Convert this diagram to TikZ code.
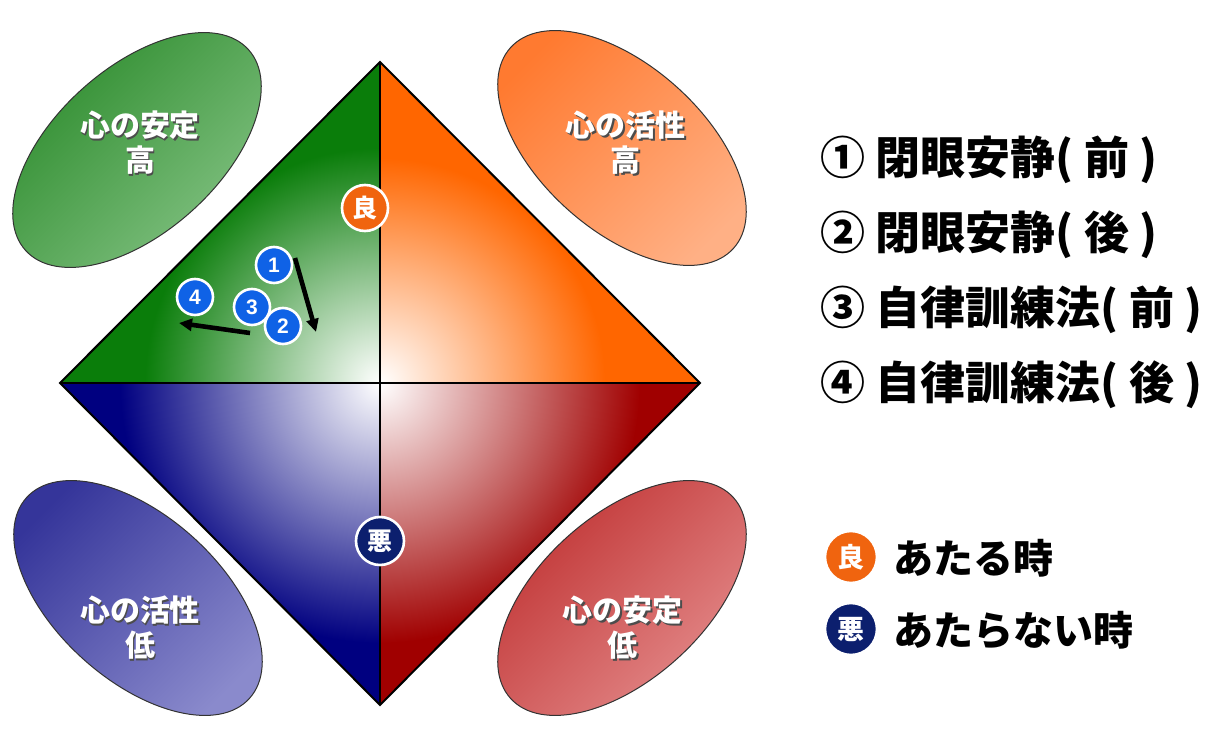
\documentclass[tikz,border=0pt]{standalone}
\usepackage{fontspec}
\newfontfamily\jp{Noto Sans CJK JP}
\newfontfamily\num{Liberation Sans}
\usetikzlibrary{arrows.meta}
\definecolor{qgreen}{HTML}{0A7D0A}
\definecolor{qorange}{HTML}{FF6600}
\definecolor{qnavy}{HTML}{000080}
\definecolor{qred}{HTML}{A00000}
\definecolor{egreenA}{HTML}{2A8A2A}
\definecolor{egreenB}{HTML}{86C486}
\definecolor{eorangeA}{HTML}{FF7A30}
\definecolor{eorangeB}{HTML}{FFB085}
\definecolor{enavyA}{HTML}{35359A}
\definecolor{enavyB}{HTML}{8A8ACC}
\definecolor{eredA}{HTML}{BE2E2E}
\definecolor{eredB}{HTML}{E69090}
\definecolor{mblue}{HTML}{0F62E6}
\definecolor{goodc}{HTML}{F0640F}
\definecolor{badc}{HTML}{0C1F6E}
\tikzset{
  etext/.style={font=\jp\bfseries\fontsize{15pt}{17.5pt}\selectfont, text=white, align=center},
  eshadow/.style={font=\jp\bfseries\fontsize{15pt}{17.5pt}\selectfont, text=black!70, align=center},
  marker/.style={circle, fill=mblue, draw=white, line width=1.3pt, minimum size=18pt, inner sep=0pt, text=white, font=\num\bfseries\fontsize{10.5pt}{10.5pt}\selectfont},
  badge/.style={circle, draw=white, line width=1.3pt, minimum size=#1, inner sep=0pt, text=white},
  legend/.style={anchor=west, font=\jp\bfseries\fontsize{22.5pt}{24pt}\selectfont, inner sep=0pt},
  legend2/.style={anchor=west, font=\jp\bfseries\fontsize{20pt}{22pt}\selectfont, inner sep=0pt},
  trend/.style={line width=2.3pt, -{Triangle[length=6.5pt,width=6pt]}},
  axisline/.style={line width=1pt, black},
  eline/.style={draw=black!80, line width=0.5pt}
}
\begin{document}
\begin{tikzpicture}[x=0.5pt,y=-0.5pt]
\useasboundingbox (0,0) rectangle (1212,749);
\coordinate (ctr) at (380,383);
\coordinate (top) at (380,62);
\coordinate (bot) at (380,705);
\coordinate (lft) at (60,383);
\coordinate (rgt) at (700,383);
% quadrants: radial fade from the centre
\begin{scope}
  \clip (ctr) -- (lft) -- (top) -- cycle;
  \fill[qgreen] (ctr) -- (lft) -- (top) -- cycle;
  \shade[inner color=white, outer color=qgreen] (ctr) circle (235);
\end{scope}
\begin{scope}
  \clip (ctr) -- (top) -- (rgt) -- cycle;
  \fill[qorange] (ctr) -- (top) -- (rgt) -- cycle;
  \shade[inner color=white, outer color=qorange] (ctr) circle (225);
\end{scope}
\begin{scope}
  \clip (ctr) -- (lft) -- (bot) -- cycle;
  \fill[qnavy] (ctr) -- (lft) -- (bot) -- cycle;
  \shade[inner color=white, outer color=qnavy] (ctr) circle (260);
\end{scope}
\begin{scope}
  \clip (ctr) -- (rgt) -- (bot) -- cycle;
  \fill[qred] (ctr) -- (rgt) -- (bot) -- cycle;
  \shade[inner color=white, outer color=qred] (ctr) circle (260);
\end{scope}
\draw[axisline] (top) -- (rgt) -- (bot) -- (lft) -- cycle;
\draw[axisline] (top) -- (bot);
\draw[axisline] (lft) -- (rgt);
% ellipses
\shade[eline, top color=egreenA, bottom color=egreenB, shading angle=45] (137,150) ellipse [x radius=150, y radius=82, rotate=42];
\shade[eline, top color=eorangeA, bottom color=eorangeB, shading angle=45] (622,148) ellipse [x radius=150, y radius=82, rotate=-42];
\shade[eline, top color=enavyA, bottom color=enavyB, shading angle=45] (138,598) ellipse [x radius=150, y radius=82, rotate=-42];
\shade[eline, top color=eredA, bottom color=eredB, shading angle=45] (622,598) ellipse [x radius=150, y radius=82, rotate=42];
% ellipse texts
\node[eshadow] at (142,145) {心の安定\\高};
\node[etext] (e1) at (140,143) {心の安定\\高};
\node[eshadow] at (627,145) {心の活性\\高};
\node[etext] (e2) at (625,143) {心の活性\\高};
\node[eshadow] at (142,630) {心の活性\\低};
\node[etext] (e3) at (140,628) {心の活性\\低};
\node[eshadow] at (624,630) {心の安定\\低};
\node[etext] (e4) at (622,628) {心の安定\\低};
% badges on diamond
\node[badge=23pt, fill=goodc, font=\jp\bfseries\fontsize{12.5pt}{12.5pt}\selectfont] (good) at (365,208) {良};
\node[badge=24pt, fill=badc, font=\jp\bfseries\fontsize{12.5pt}{12.5pt}\selectfont] (bad) at (380,541) {悪};
% markers
\node[marker] (m1) at (274,265) {1};
\node[marker] (m3) at (252,307) {3};
\node[marker] (m2) at (283,326) {2};
\node[marker] (m4) at (195,297) {4};
\coordinate (a1s) at (295,258);
\coordinate (a1e) at (316,332);
\coordinate (a2s) at (250,333);
\coordinate (a2e) at (179,323);
\draw[trend] (a1s) -- (a1e);
\draw[trend] (a2s) -- (a2e);
% legend
\node[legend] (l1) at (820,160) {① 閉眼安静( 前 )};
\node[legend] (l2) at (820,235) {② 閉眼安静( 後 )};
\node[legend] (l3) at (820,310) {③ 自律訓練法( 前 )};
\node[legend] (l4) at (820,385) {④ 自律訓練法( 後 )};
\node[badge=26pt, fill=goodc, font=\jp\bfseries\fontsize{13.5pt}{13.5pt}\selectfont] (lg) at (851,557) {良};
\node[legend2] (lgt) at (893,558) {あたる時};
\node[badge=26pt, fill=badc, font=\jp\bfseries\fontsize{13.5pt}{13.5pt}\selectfont] (lb) at (851,629) {悪};
\node[legend2] (lbt) at (893,630) {あたらない時};
\end{tikzpicture}
\end{document}
